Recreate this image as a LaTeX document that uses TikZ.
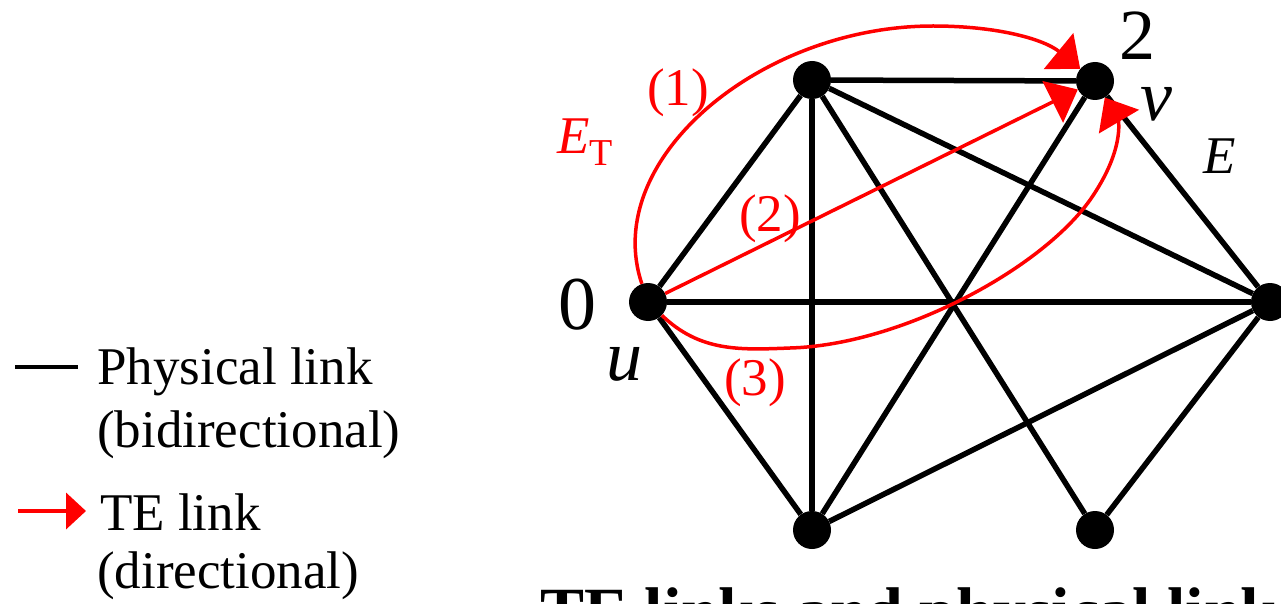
\documentclass[tikz,border=0pt]{standalone}
\usepackage{fontspec}
\setmainfont{Liberation Serif}
\usetikzlibrary{arrows.meta}
\begin{document}
\begin{tikzpicture}[x=1pt,y=-1pt,
  nd/.style={circle,fill=black,inner sep=0pt,minimum size=38pt},
  phys/.style={line width=5.5pt},
  te/.style={red,line width=3.5pt,-{Triangle[length=28pt,width=46pt]}},
  lbl/.style={inner sep=0pt,font=\fontsize{53}{64}\selectfont},
  big/.style={inner sep=0pt,font=\fontsize{76}{76}\selectfont},
  txt/.style={inner sep=0pt,anchor=base west,font=\fontsize{53}{64}\selectfont}]
 \useasboundingbox (0,0) rectangle (1281,604);
 \foreach \i/\x/\y in {0/648/302,1/812/80,2/1095/81,3/1270/302,4/1095/530,5/812/530}
   \node[nd] (n\i) at (\x,\y) {};
 % physical links
 \foreach \a/\b in {0/1,1/2,2/3,3/4,1/4,0/5,0/3,1/5,1/3,5/2,5/3}
   \draw[phys] (n\a)--(n\b);
 % TE links
 \draw[te] (n0) .. controls (600,160) and (760,26) .. (933,26)
   .. controls (1000,26) and (1045,40) .. (n2);
 \draw[te] (n0) -- (n2);
 \draw[te] (n0) .. controls (700,352) and (740,350) .. (790,348)
   .. controls (900,345) and (1040,270) .. (1090,200)
   .. controls (1125,150) and (1118,120) .. (n2);
 \node[big] (l0) at (577,305) {0};
 \node[big,font=\fontsize{72}{72}\selectfont] (l2) at (1137,36) {2};
 \node[big,font=\fontsize{72}{72}\selectfont\itshape] (lu) at (624,364) {u};
 \node[big,font=\fontsize{72}{72}\selectfont\itshape] (lv) at (1156,104) {v};
 \node[lbl,font=\fontsize{53}{53}\selectfont\itshape] (le) at (1220,156) {E};
 \node[lbl,red] (let) at (585,142) {\itshape E\raisebox{-0.22em}{\fontsize{38}{38}\selectfont\upshape T}};
 \node[lbl,red] (p1) at (678,93) {(1)};
 \node[lbl,red] (p2) at (770,219) {(2)};
 \node[lbl,red] (p3) at (755,383) {(3)};
 % legend
 \coordinate (pa) at (15,367);
 \coordinate (pb) at (78,367);
 \draw[line width=4pt] (pa)--(pb);
 \node[txt] (phys1) at (97,384) {Physical link};
 \node[txt] (phys2) at (97,447) {(bidirectional)};
 \coordinate (ta) at (18,511);
 \coordinate (tb) at (86,511);
 \draw[red,line width=4pt,-{Triangle[length=20pt,width=36pt]}] (ta)--(tb);
 \node[txt] (te1) at (100,530) {TE link};
 \node[txt] (te2) at (97,588) {(directional)};
 \node[txt,font=\bfseries\fontsize{66}{66}\selectfont] (title) at (540,633) {TE links and physical links};
\end{tikzpicture}
\end{document}
